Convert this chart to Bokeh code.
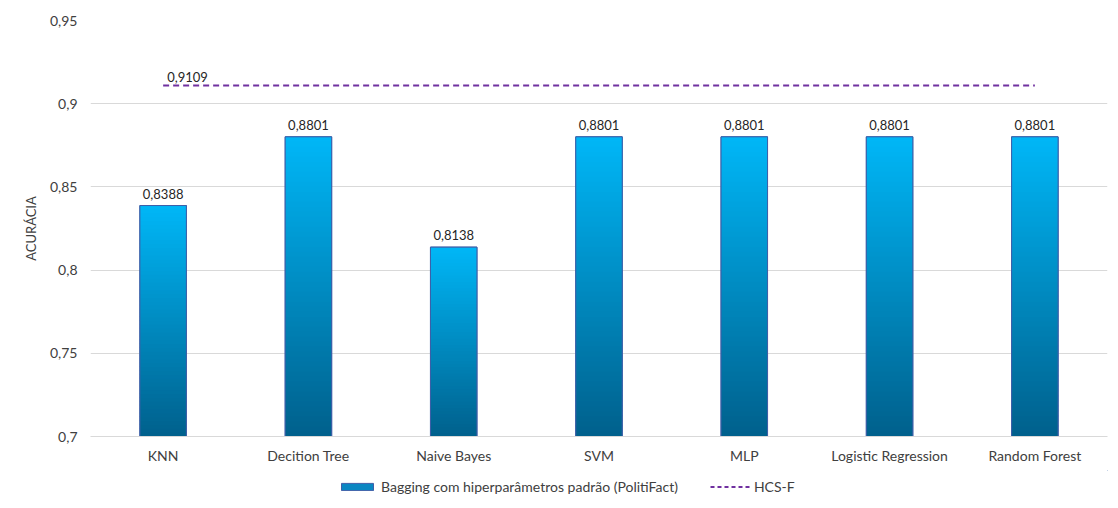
from bokeh.plotting import figure
from bokeh.layouts import column
from bokeh.models import (ColumnDataSource, FactorRange, Range1d, FixedTicker,
                          Legend, LegendItem)
from bokeh.core.properties import value
from bokeh.embed import file_html
from bokeh.resources import INLINE

categories = ["KNN", "Decition Tree", "Naive Bayes", "SVM", "MLP",
              "Logistic Regression", "Random Forest"]
bagging = [0.8388, 0.8801, 0.8138, 0.8801, 0.8801, 0.8801, 0.8801]
hcs_f = 0.9109
y_ticks = [0.7, 0.75, 0.8, 0.85, 0.9, 0.95]
y_tick_labels = ["0,7", "0,75", "0,8", "0,85", "0,9", "0,95"]
series_bar = "Bagging com hiperparâmetros padrão (PolitiFact)"
series_line = "HCS-F"

FONT = "Lato"
BASE = 0.7
BAR_W = 0.32
TOP_C = (0x00, 0xB7, 0xF7)
BOT_C = (0x00, 0x60, 0x8C)
EDGE = "#3F5FA8"
LEG_BAR = "#0A86C2"
LINE_C = "#7030A0"

def fmt(v):
    return f"{v:.4f}".replace(".", ",")

p = figure(x_range=FactorRange(*categories, range_padding=0),
           y_range=Range1d(0.7, 0.95),
           width=1118, height=470, output_backend="svg", toolbar_location=None,
           min_border_left=90, min_border_right=11, min_border_top=20,
           min_border_bottom=34)
p.outline_line_color = None
p.background_fill_color = "white"
p.border_fill_color = "white"

src = ColumnDataSource(dict(x=categories, top=bagging,
                            lbl=[fmt(v) for v in bagging]))
p.vbar(x="x", top="top", bottom=BASE, width=BAR_W, source=src,
       fill_color=LEG_BAR, line_color=EDGE, line_width=1)

# gradient segments
N = 60
sx, sb, st, sc = [], [], [], []
for c, v in zip(categories, bagging):
    h = v - BASE
    for k in range(N):
        t = (k + 0.5) / N
        col = tuple(int(round(BOT_C[j] + (TOP_C[j] - BOT_C[j]) * t)) for j in range(3))
        sx.append(c)
        sb.append(BASE + h * k / N)
        st.append(min(v, BASE + h * (k + 1.3) / N))
        sc.append("#%02x%02x%02x" % col)
seg = ColumnDataSource(dict(x=sx, bottom=sb, top=st, color=sc))
p.vbar(x="x", top="top", bottom="bottom", width=BAR_W, source=seg,
       fill_color="color", line_color=None)
p.vbar(x="x", top="top", bottom=BASE, width=BAR_W, source=src,
       fill_alpha=0, line_color=EDGE, line_width=1)

p.text(x="x", y="top", text="lbl", source=src, y_offset=-7,
       text_align="center", text_baseline="bottom",
       text_font=value(FONT), text_font_size="13px", text_color="#262626")

p.line(x=categories, y=[hcs_f] * len(categories), line_color=LINE_C,
       line_width=2, line_dash="6 4")
p.text(x=[categories[0]], y=[hcs_f], text=[fmt(hcs_f)], x_offset=4, y_offset=-4,
       text_align="left", text_baseline="bottom",
       text_font=value(FONT), text_font_size="13px", text_color="#262626")

p.yaxis.ticker = FixedTicker(ticks=y_ticks)
p.yaxis.major_label_overrides = {t: l for t, l in zip(y_ticks, y_tick_labels)}
p.yaxis.axis_line_color = None
p.yaxis.major_tick_line_color = None
p.yaxis.minor_tick_line_color = None
p.yaxis.major_label_standoff = 7
p.yaxis.major_label_text_font = FONT
p.yaxis.major_label_text_font_size = "14px"
p.yaxis.major_label_text_color = "#404040"
p.yaxis.axis_label = "ACURÁCIA"
p.yaxis.axis_label_text_font = FONT
p.yaxis.axis_label_text_font_size = "13px"
p.yaxis.axis_label_text_font_style = "normal"
p.yaxis.axis_label_text_color = "#404040"
p.yaxis.axis_label_standoff = 8

p.xaxis.axis_line_color = "#D9D9D9"
p.xaxis.major_tick_line_color = None
p.xaxis.minor_tick_line_color = None
p.xaxis.major_label_standoff = 4
p.xaxis.major_label_text_font = FONT
p.xaxis.major_label_text_font_size = "14px"
p.xaxis.major_label_text_color = "#404040"

p.xgrid.grid_line_color = None
p.ygrid.grid_line_color = "#D9D9D9"
p.ygrid.grid_line_width = 1

# legend strip
lg = figure(x_range=Range1d(0, 1), y_range=Range1d(0, 1), width=1118, height=38,
            output_backend="svg", toolbar_location=None,
            min_border_left=0, min_border_right=0, min_border_top=0,
            min_border_bottom=0)
lg.axis.visible = False
lg.grid.visible = False
lg.outline_line_color = None
bar_dummy = lg.vbar(x=[5], top=[5], bottom=[4], width=0.1, fill_color=LEG_BAR,
                    line_color=EDGE, line_width=1)
line_dummy = lg.line(x=[5, 6], y=[5, 5], line_color=LINE_C, line_width=2,
                     line_dash="4 3")
legend = Legend(items=[LegendItem(label=series_bar, renderers=[bar_dummy]),
                       LegendItem(label=series_line, renderers=[line_dummy])],
                orientation="horizontal", location=(247, 13),
                glyph_width=40, glyph_height=9, label_text_font=FONT,
                label_text_font_size="14px", label_text_color="#404040",
                border_line_color=None, background_fill_alpha=0,
                spacing=32, padding=2, margin=0, label_standoff=4)
lg.add_layout(legend, "center")

layout = column(p, lg, spacing=0)
open("out.html", "w").write(file_html(layout, INLINE))
